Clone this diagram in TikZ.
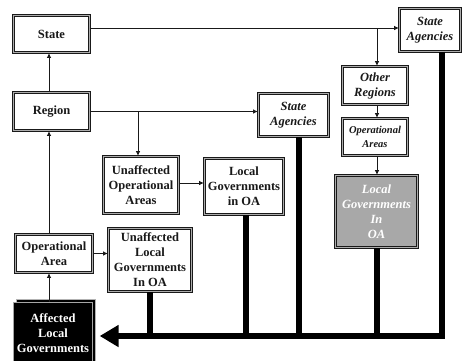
\documentclass[tikz,border=0pt]{standalone}
\usepackage{fontspec}
\setmainfont{Liberation Serif}
\usepackage{tikz}
\usetikzlibrary{calc, arrows.meta, shadows}

\tikzset{
  box/.style={draw=black!90, double=gray!65, double distance=1.3pt, line width=0.8pt,
    fill=white, align=center, inner sep=1pt,
    font=\fontsize{12.5}{15}\selectfont\bfseries, text=black!90},
  ibox/.style={box, font=\fontsize{12.5}{15}\selectfont\bfseries\itshape},
  sbox/.style={box, font=\fontsize{10.5}{14}\selectfont\bfseries\itshape},
  greybox/.style={ibox, fill=gray!68, text=white},
  blackbox/.style={fill=black, draw=gray!70, line width=0.4pt, text=white, align=center,
    font=\fontsize{12.5}{15}\selectfont\bfseries,
    copy shadow={shadow xshift=2.5pt, shadow yshift=2.5pt, fill=black, draw=gray!60}},
  link/.style={line width=1pt, black!90, -{Latex[length=5pt,width=4.5pt]}},
  feed/.style={line width=6pt, black},
  bus/.style={feed, line join=miter, -{Triangle[length=19pt,width=21pt]}},
}

\begin{document}
\begin{tikzpicture}[x=1pt, y=-1pt]
    \useasboundingbox (0,0) rectangle (466,360);

    % left column
    \node[box, minimum width=76pt, minimum height=37pt] (state) at (51.5,34) {State};
    \node[box, minimum width=76pt, minimum height=38pt] (region) at (51.5,111.5) {Region};
    \node[box, minimum width=77pt, minimum height=38pt] (oparea) at (54,253.5) {Operational\\Area};
    \node[blackbox, minimum width=76pt, minimum height=62pt] (affected) at (53,333) {Affected\\Local\\Governments};

    % middle
    \node[box, minimum width=75pt, minimum height=57pt] (unaffoa) at (141,185) {Unaffected\\Operational\\Areas};
    \node[box, minimum width=79pt, minimum height=56pt] (localgov) at (244,186.5) {Local\\Governments\\in OA};
    \node[box, minimum width=83pt, minimum height=63pt] (unafflg) at (150,260) {Unaffected\\Local\\Governments\\In OA};
    \node[ibox, minimum width=70pt, minimum height=43pt] (agency2) at (293.5,115) {State\\Agencies};

    % right
    \node[ibox, minimum width=61pt, minimum height=43pt] (agency1) at (430,30) {State\\Agencies};
    \node[ibox, minimum width=65pt, minimum height=38pt] (otherreg) at (375,85.5) {Other\\Regions};
    \node[sbox, minimum width=65pt, minimum height=37pt] (opareas) at (375,137) {Operational\\Areas};
    \node[greybox, minimum width=82pt, minimum height=72pt] (greylg) at (376.5,211.5) {Local\\Governments\\In\\OA};

    % thin links
    \coordinate (stline) at ([yshift=6pt]state.east);
    \draw[link] (stline) -- (stline -| agency1.west);
    \draw[link] ([xshift=2pt]stline -| otherreg.north) -- ([xshift=2pt]otherreg.north);
    \draw[link] ([xshift=2pt]otherreg.south) -- ([xshift=2pt]opareas.north);
    \draw[link] ([xshift=2pt]opareas.south) -- ([xshift=2pt]opareas.south |- greylg.north);

    \draw[link] (region.east) -- (region.east -| agency2.west);
    \draw[link] ([xshift=-3pt]region.east -| unaffoa.north) -- ([xshift=-3pt]unaffoa.north);
    \draw[link] ([yshift=2pt]unaffoa.east) -- ([yshift=2pt]unaffoa.east -| localgov.west);

    \draw[link] ([xshift=-2.5pt]region.north) -- ([xshift=-2.5pt]state.south);
    \draw[link] ([xshift=-5pt]oparea.north) -- ([xshift=-5pt]oparea.north |- region.south);
    \draw[link] (oparea.east) -- (oparea.east -| unafflg.west);
    \draw[link] ([xshift=-4pt]affected.north) -- ([xshift=-4pt]affected.north |- oparea.south);

    % thick return lines
    \coordinate (busline) at (0,336);
    \draw[bus] ([xshift=11.5pt]agency1.south) |- ([xshift=7pt]affected.east |- busline);
    \draw[feed] ([xshift=5.5pt]agency2.south) -- ([xshift=5.5pt]agency2.south |- busline);
    \draw[feed] ([xshift=0.5pt]greylg.south) -- ([xshift=0.5pt]greylg.south |- busline);
    \draw[feed] ([xshift=2pt]localgov.south) -- ([xshift=2pt]localgov.south |- busline);
    \draw[feed] (unafflg.south) -- (unafflg.south |- busline);
\end{tikzpicture}
\end{document}
